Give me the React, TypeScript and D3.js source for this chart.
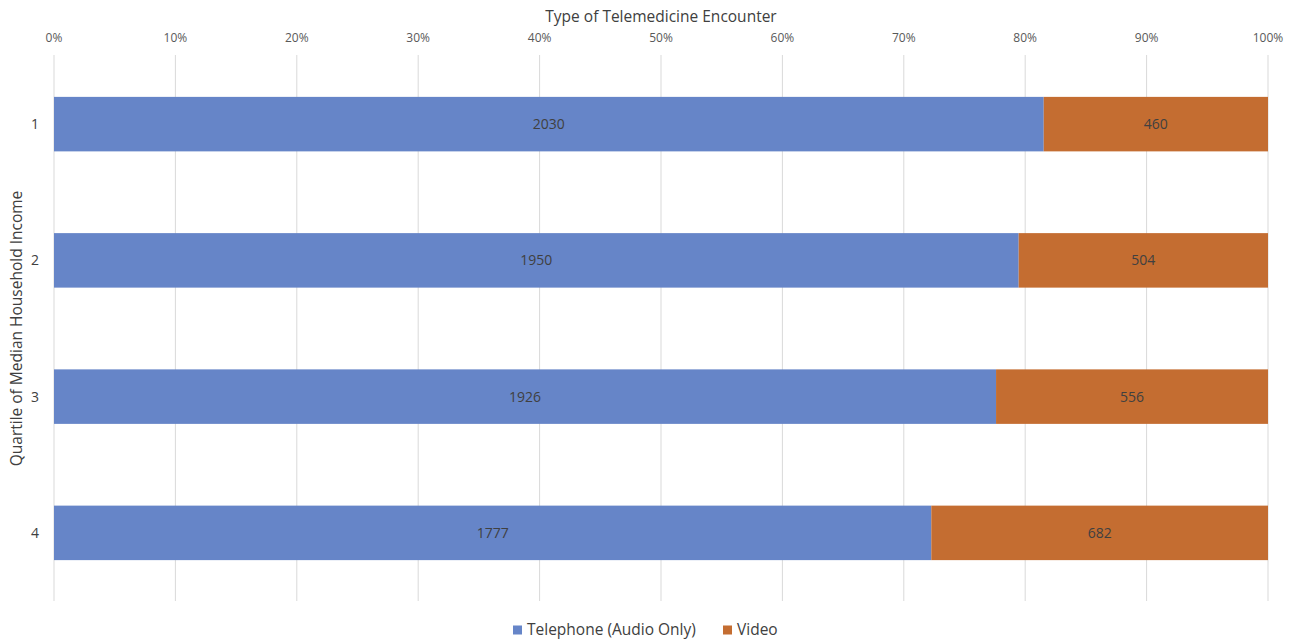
import React from "react";
import * as d3 from "d3";

const quartiles = ["1", "2", "3", "4"];
const telephone = [2030, 1950, 1926, 1777];
const video = [460, 504, 556, 682];
const seriesNames = ["Telephone (Audio Only)", "Video"];
const seriesColors = ["#6685C8", "#C46D31"];
const xTicks = [0, 0.1, 0.2, 0.3, 0.4, 0.5, 0.6, 0.7, 0.8, 0.9, 1];

const width = 1294;
const height = 642;
const font = "'Open Sans', 'Noto Sans', sans-serif";

export default function App() {
  const x = d3.scaleLinear().domain([0, 1]).range([54, 1268]);
  const y = d3
    .scaleBand()
    .domain(quartiles)
    .range([56, 601])
    .paddingInner(0.6)
    .paddingOuter(0.3);

  const rows = quartiles.map((q, i) => {
    const total = telephone[i] + video[i];
    return { q, tel: telephone[i], vid: video[i], share: telephone[i] / total };
  });

  return (
    <svg
      width={width}
      height={height}
      style={{ position: "absolute", left: 0, top: 0, background: "#fff" }}
      fontFamily={font}
    >
      {/* gridlines */}
      {xTicks.map((t) => (
        <line
          key={t}
          x1={x(t)}
          x2={x(t)}
          y1={55}
          y2={601}
          stroke="#d9d9d9"
          strokeWidth={1}
        />
      ))}

      {/* top axis labels */}
      {xTicks.map((t) => (
        <text
          key={t}
          x={x(t)}
          y={42}
          textAnchor="middle"
          fontSize={12}
          fill="#595959"
        >
          {d3.format(".0%")(t)}
        </text>
      ))}
      <text x={(x(0) + x(1)) / 2} y={22} textAnchor="middle" fontSize={15.5} fill="#404040">
        Type of Telemedicine Encounter
      </text>

      {/* bars */}
      {rows.map((r) => {
        const y0 = y(r.q)!;
        const bh = y.bandwidth();
        return (
          <g key={r.q}>
            <rect x={x(0)} y={y0} width={x(r.share) - x(0)} height={bh} fill={seriesColors[0]} />
            <rect x={x(r.share)} y={y0} width={x(1) - x(r.share)} height={bh} fill={seriesColors[1]} />
            <text
              x={(x(0) + x(r.share)) / 2}
              y={y0 + bh / 2}
              dy="0.35em"
              textAnchor="middle"
              fontSize={14}
              fill="#404040"
            >
              {r.tel}
            </text>
            <text
              x={(x(r.share) + x(1)) / 2}
              y={y0 + bh / 2}
              dy="0.35em"
              textAnchor="middle"
              fontSize={14}
              fill="#404040"
            >
              {r.vid}
            </text>
            <text
              x={39}
              y={y0 + bh / 2}
              dy="0.35em"
              textAnchor="end"
              fontSize={14}
              fill="#404040"
            >
              {r.q}
            </text>
          </g>
        );
      })}

      {/* y axis title */}
      <text
        transform={`translate(22,${(56 + 601) / 2}) rotate(-90)`}
        textAnchor="middle"
        fontSize={15.5}
        fill="#404040"
      >
        Quartile of Median Household Income
      </text>

      {/* legend */}
      <g transform="translate(513,630)">
        <rect x={0} y={-4.5} width={9} height={9} fill={seriesColors[0]} />
        <text x={14} dy="0.35em" fontSize={15.5} fill="#404040">
          {seriesNames[0]}
        </text>
        <rect x={210} y={-4.5} width={9} height={9} fill={seriesColors[1]} />
        <text x={224} dy="0.35em" fontSize={15.5} fill="#404040">
          {seriesNames[1]}
        </text>
      </g>
    </svg>
  );
}
